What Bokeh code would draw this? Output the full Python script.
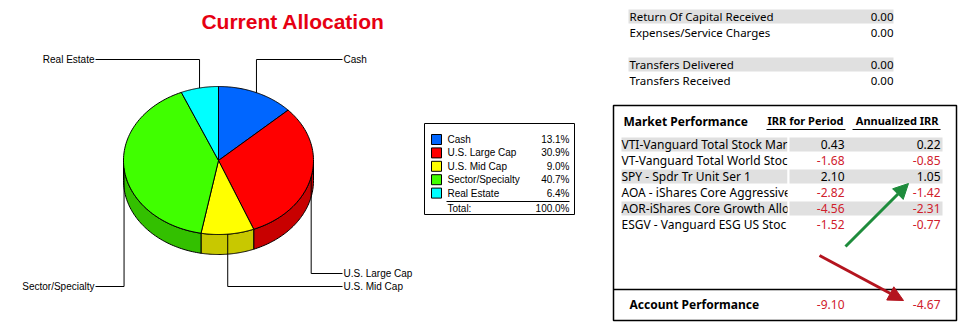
import numpy as np
from bokeh.plotting import figure
from bokeh.models import Range1d, Arrow, NormalHead
from bokeh.core.properties import value
from bokeh.embed import file_html
from bokeh.resources import INLINE

# ---------------- data ----------------
title_text = "Current Allocation"
categories = ["Cash", "U.S. Large Cap", "U.S. Mid Cap", "Sector/Specialty", "Real Estate"]
alloc_pct = [13.1, 30.9, 9.0, 40.7, 6.4]
alloc_total = 100.0
total_label = "Total:"

summary_labels = ["Return Of Capital Received", "Expenses/Service Charges",
                  "Transfers Delivered", "Transfers Received"]
summary_values = [0.00, 0.00, 0.00, 0.00]

perf_title = "Market Performance"
perf_columns = ["IRR for Period", "Annualized IRR"]
fund_names = ["VTI-Vanguard Total Stock Mar", "VT-Vanguard Total World Stoc",
              "SPY - Spdr Tr Unit Ser 1", "AOA - iShares Core Aggressive",
              "AOR-iShares Core Growth Alloc", "ESGV - Vanguard ESG US Stoc"]
irr_period = [0.43, -1.68, 2.10, -2.82, -4.56, -1.52]
irr_annual = [0.22, -0.85, 1.05, -1.42, -2.31, -0.77]
account_label = "Account Performance"
account_irr_period = -9.10
account_irr_annual = -4.67

# ---------------- styles / layout ----------------
top_colors = ["#0066FF", "#FF0000", "#FFFF00", "#40FF00", "#00FFFF"]
side_colors = ["#0050C8", "#C80000", "#C8C800", "#33C000", "#00C8C8"]
NEG = "#D0202C"
SANS = value("Liberation Sans")
BODY = value("Noto Sans")

cx, cy, rx, ry, depth = 218.0, 160.0, 95.0, 74.0, 20.0
label_y = {"Cash": 59, "U.S. Large Cap": 273, "U.S. Mid Cap": 286,
           "Sector/Specialty": 286, "Real Estate": 59}
right_label_x, left_label_x = 342, 95

p = figure(width=962, height=330, x_range=Range1d(0, 962), y_range=Range1d(330, 0),
           x_axis_type=None, y_axis_type=None, output_backend="svg",
           toolbar_location=None, min_border=0, outline_line_color=None)
p.xgrid.visible = False
p.ygrid.visible = False
p.background_fill_color = "white"
p.border_fill_color = "white"


def ell(theta_deg, dy=0.0):
    t = np.radians(theta_deg)
    return cx + rx * np.sin(t), cy - ry * np.cos(t) + dy


# title
p.text(x=[292.5], y=[21], text=[title_text], text_font=SANS, text_font_style="bold",
       text_font_size="21px", text_color="#E60012", text_align="center", text_baseline="middle")

# pie angles
fracs = np.array(alloc_pct) / sum(alloc_pct)
ends = np.cumsum(fracs) * 360.0
starts = np.concatenate([[0.0], ends[:-1]])

# side faces (front half 90..270 degrees)
sxs, sys_, scol = [], [], []
for a1, a2, c in zip(starts, ends, side_colors):
    b1, b2 = max(a1, 90.0), min(a2, 270.0)
    if b2 <= b1:
        continue
    th = np.linspace(b1, b2, 60)
    x_t, y_t = ell(th)
    x_b, y_b = ell(th[::-1], depth)
    sxs.append(list(np.concatenate([x_t, x_b])))
    sys_.append(list(np.concatenate([y_t, y_b])))
    scol.append(c)
p.patches(xs=sxs, ys=sys_, fill_color=scol, line_color="black", line_width=1)

# top wedges
txs, tys = [], []
for a1, a2 in zip(starts, ends):
    th = np.linspace(a1, a2, 80)
    x_t, y_t = ell(th)
    txs.append([cx] + list(x_t))
    tys.append([cy] + list(y_t))
p.patches(xs=txs, ys=tys, fill_color=top_colors, line_color="black", line_width=1)

# leader lines and labels
for name, a1, a2 in zip(categories, starts, ends):
    mid = (a1 + a2) / 2.0
    ax, ay = ell(mid)
    ly = label_y[name]
    if np.sin(np.radians(mid)) >= 0:
        lx, align = right_label_x, "left"
    else:
        lx, align = left_label_x, "right"
    p.line(x=[ax, ax, lx], y=[ay, ly, ly], line_color="black", line_width=1)
    p.text(x=[lx + (1 if align == "left" else -1)], y=[ly], text=[name], text_font=SANS,
           text_font_size="10px", text_align=align, text_baseline="middle", text_color="black")

# legend box
p.quad(left=[424], right=[574], top=[123], bottom=[214], fill_color="white",
       line_color="black", line_width=1)
row0, step = 139.0, 13.4
ly_rows = [row0 + i * step for i in range(len(categories))]
p.quad(left=[431] * 5, right=[441] * 5, top=[y - 5 for y in ly_rows],
       bottom=[y + 5 for y in ly_rows], fill_color=top_colors, line_color="black", line_width=1)
p.text(x=[447] * 5, y=ly_rows, text=categories, text_font=SANS, text_font_size="10px",
       text_baseline="middle", text_color="black")
p.text(x=[569] * 5, y=ly_rows, text=[f"{v:.1f}%" for v in alloc_pct], text_font=SANS,
       text_font_size="10px", text_baseline="middle", text_align="right", text_color="black")
p.line(x=[446, 569], y=[201, 201], line_color="black", line_width=1)
p.text(x=[447], y=[208], text=[total_label], text_font=SANS, text_font_size="10px",
       text_baseline="middle", text_color="black")
p.text(x=[569], y=[208], text=[f"{alloc_total:.1f}%"], text_font=SANS, text_font_size="10px",
       text_baseline="middle", text_align="right", text_color="black")

# summary table (top right)
sum_y = [16, 32, 64, 80]
gray_y = [sum_y[i] for i in range(len(sum_y)) if i % 2 == 0]
p.quad(left=[628] * len(gray_y), right=[893] * len(gray_y), top=[y - 7 for y in gray_y],
       bottom=[y + 7 for y in gray_y], fill_color="#E0E0E0", line_color=None)
p.text(x=[629] * 4, y=sum_y, text=summary_labels, text_font=BODY, text_font_size="11.5px",
       text_baseline="middle", text_color="black")
p.text(x=[893] * 4, y=sum_y, text=[f"{v:.2f}" for v in summary_values], text_font=BODY,
       text_font_size="11.5px", text_baseline="middle", text_align="right", text_color="black")

# market performance box
p.quad(left=[613], right=[956], top=[105], bottom=[320], fill_color="white",
       line_color="black", line_width=1.5)
p.line(x=[613, 956], y=[289, 289], line_color="black", line_width=1.5)
p.text(x=[623], y=[121], text=[perf_title], text_font=BODY, text_font_style="bold",
       text_font_size="12px", text_baseline="middle", text_color="black")
p.text(x=[843, 938], y=[120, 120], text=perf_columns, text_font=BODY, text_font_style="bold",
       text_font_size="11px", text_baseline="middle", text_align="right", text_color="black")
p.segment(x0=[766, 852], y0=[129, 129], x1=[845, 940], y1=[129, 129],
          line_color="black", line_width=1)

rows_y = [144 + 16 * i for i in range(len(fund_names))]
band_y = [rows_y[i] for i in range(len(rows_y)) if i % 2 == 0]
plain_y = [rows_y[i] for i in range(len(rows_y)) if i % 2 == 1]
p.quad(left=[621] * len(band_y), right=[787] * len(band_y), top=[y - 7 for y in band_y],
       bottom=[y + 7 for y in band_y], fill_color="#E0E0E0", line_color=None)
p.text(x=[621] * len(fund_names), y=rows_y, text=fund_names, text_font=BODY,
       text_font_size="12px", text_baseline="middle", text_color="black")
# clip the name column at its edge (white cover / value-column band drawn over overflow)
p.quad(left=[787] * len(rows_y), right=[805] * len(rows_y), top=[y - 8 for y in rows_y],
       bottom=[y + 8 for y in rows_y], fill_color="white", line_color=None)
p.quad(left=[789] * len(band_y), right=[942] * len(band_y), top=[y - 7 for y in band_y],
       bottom=[y + 7 for y in band_y], fill_color="#E0E0E0", line_color=None)
p.text(x=[844] * len(irr_period), y=rows_y, text=[f"{v:.2f}" for v in irr_period],
       text_font=BODY, text_font_size="12px", text_baseline="middle", text_align="right",
       text_color=[NEG if v < 0 else "black" for v in irr_period])
p.text(x=[940] * len(irr_annual), y=rows_y, text=[f"{v:.2f}" for v in irr_annual],
       text_font=BODY, text_font_size="12px", text_baseline="middle", text_align="right",
       text_color=[NEG if v < 0 else "black" for v in irr_annual])

p.text(x=[629], y=[304], text=[account_label], text_font=BODY, text_font_style="bold",
       text_font_size="12px", text_baseline="middle", text_color="black")
acc_vals = [account_irr_period, account_irr_annual]
p.text(x=[844, 940], y=[304, 304], text=[f"{v:.2f}" for v in acc_vals], text_font=BODY,
       text_font_size="12px", text_baseline="middle", text_align="right",
       text_color=[NEG if v < 0 else "black" for v in acc_vals])

# arrows
green = "#1E8C3C"
red = "#B4141E"
p.add_layout(Arrow(end=NormalHead(size=15, fill_color=green, line_color=green),
                   x_start=845, y_start=246, x_end=908, y_end=183,
                   line_color=green, line_width=3))
p.add_layout(Arrow(end=NormalHead(size=15, fill_color=red, line_color=red),
                   x_start=819, y_start=255, x_end=903, y_end=300,
                   line_color=red, line_width=3))

open("out.html", "w").write(file_html(p, INLINE))
